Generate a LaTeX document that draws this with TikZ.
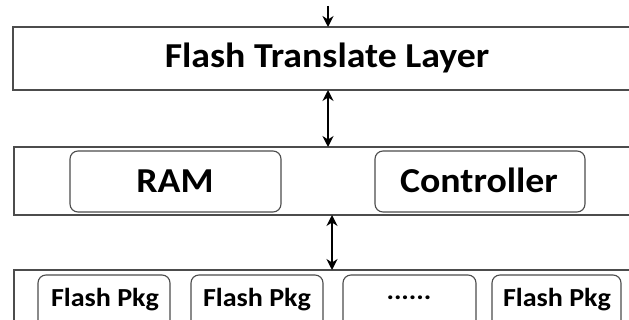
\documentclass[tikz,border=0pt]{standalone}
\usepackage{fontspec}
\setmainfont{Carlito}[FakeStretch=1.08]
\usetikzlibrary{arrows.meta}
\begin{document}
\begin{tikzpicture}[x=1pt,y=-1pt,
  layer/.style={draw=black!70,line width=1.3pt},
  part/.style={draw=black!70,line width=1.1pt,rounded corners=8pt},
  lbl/.style={font=\bfseries\fontsize{35}{38}\selectfont,anchor=base,inner sep=0pt},
  plbl/.style={font=\bfseries\fontsize{26}{29}\selectfont,anchor=base,inner sep=0pt},
  link/.style={line width=2.8pt,-{Stealth[length=11pt,width=11pt]}},
  blink/.style={line width=2.8pt,{Stealth[length=11pt,width=11pt]}-{Stealth[length=11pt,width=11pt]}}]
\clip (0,0) rectangle (629,320);
\fill[white] (0,0) rectangle (629,320);
% layers
\draw[layer] (660,27) -- (13,27) -- (13,90) -- (660,90);
\draw[layer] (660,147) -- (14,147) -- (14,215) -- (660,215);
\draw[layer] (660,270) -- (14,270) -- (14,340);
\coordinate (ftlT) at (328,27);
\coordinate (ftlB) at (328,90);
\coordinate (midT) at (328,147);
\coordinate (midB) at (332,215);
\coordinate (botT) at (332,270);
\coordinate (src) at (328,6);
\node[lbl] (ftl) at (327,68) {Flash Translate Layer};
% middle parts
\draw[part] (70,151) rectangle (281,212);
\draw[part] (375,151) rectangle (585,212);
\node[lbl] (ram) at (175,193) {RAM};
\node[lbl] (ctl) at (479,193) {Controller};
% bottom parts
\draw[part] (38,275) rectangle (170,330);
\draw[part] (191,275) rectangle (323,330);
\draw[part] (343,275) rectangle (476,330);
\draw[part] (492,275) rectangle (621,330);
\node[plbl] (p1) at (105,307) {Flash Pkg};
\node[plbl] (p2) at (257,307) {Flash Pkg};
\node[plbl] (p3) at (409,300) {......};
\node[plbl] (p4) at (557,307) {Flash Pkg};
% arrows
\draw[link] (src) -- (ftlT);
\draw[blink] (ftlB) -- (midT);
\draw[blink] (midB) -- (botT);
\end{tikzpicture}
\end{document}
